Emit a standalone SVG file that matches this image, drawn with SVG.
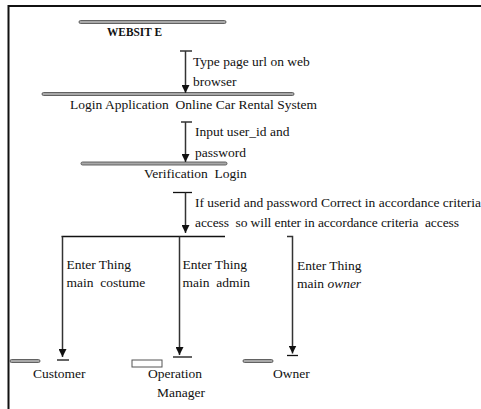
<svg xmlns="http://www.w3.org/2000/svg" width="481" height="409" viewBox="0 0 481 409">
<style>
text{font-family:"Liberation Serif","Times New Roman",serif;font-size:13.5px;fill:#111;white-space:pre}
.bar{fill:#a8a8a8;stroke:#555;stroke-width:0.9}
.ln{stroke:#333;stroke-width:1.5;fill:none}
.tk{stroke:#111;stroke-width:1.3;fill:none}
</style>
<defs>
<marker id="ah" markerUnits="userSpaceOnUse" markerWidth="9" markerHeight="8" refX="8" refY="4" orient="auto">
<path d="M0,0 L8,4 L0,8 Z" fill="#111"/>
</marker>
</defs>
<rect width="481" height="409" fill="#fff"/>
<g id="frame">
<path d="M8.5,409 V6 H481" stroke="#111" stroke-width="2" fill="none"/>
</g>
<g id="website">
<rect class="bar" x="79" y="20.5" width="147" height="3" rx="1.5"/>
<text x="107" y="36" font-weight="bold" font-size="12.5" textLength="55" lengthAdjust="spacingAndGlyphs">WEBSIT E</text>
</g>
<g id="login">
<rect class="bar" x="42" y="92.5" width="252" height="3" rx="1.5"/>
<text x="70" y="108.5" textLength="247" lengthAdjust="spacing">Login Application  Online Car Rental System</text>
</g>
<g id="verification">
<rect class="bar" x="81" y="162" width="146" height="3" rx="1.5"/>
<text x="144" y="178">Verification  Login</text>
</g>
<g id="customer">
<rect class="bar" x="10" y="359.5" width="30" height="3" rx="1.5"/>
<text x="33" y="378">Customer</text>
</g>
<g id="operation-manager">
<rect x="132" y="360" width="30" height="7" fill="#fff" stroke="#555" stroke-width="1"/>
<text x="148" y="378">Operation</text>
<text x="157" y="396.5">Manager</text>
</g>
<g id="owner">
<rect class="bar" x="243" y="359.5" width="30" height="3" rx="1.5"/>
<text x="273" y="378">Owner</text>
</g>
<g id="connectors">
<line class="tk" x1="180" y1="51" x2="192" y2="51"/>
<line class="ln" x1="185.5" y1="51" x2="185.5" y2="93" marker-end="url(#ah)"/>
<text x="193" y="66">Type page url on web</text>
<text x="193" y="86">browser</text>
<line class="tk" x1="181" y1="122" x2="192" y2="122"/>
<line class="ln" x1="185.5" y1="122" x2="185.5" y2="162" marker-end="url(#ah)"/>
<text x="195" y="136">Input user_id and</text>
<text x="195" y="157">password</text>
<line class="tk" x1="173" y1="192.5" x2="192" y2="192.5"/>
<line class="ln" x1="185.5" y1="192.5" x2="185.5" y2="233" marker-end="url(#ah)"/>
<text x="195" y="207">If userid and password Correct in accordance criteria</text>
<text x="195" y="227" textLength="264" lengthAdjust="spacing">access  so will enter in accordance criteria  access</text>
<line class="tk" x1="61.5" y1="236.5" x2="225" y2="236.5"/>
<path class="ln" d="M62.5,236.5 V357" marker-end="url(#ah)"/>
<line class="tk" x1="57" y1="360" x2="69" y2="360"/>
<path class="ln" d="M179.5,236.5 V355" marker-end="url(#ah)"/>
<line class="tk" x1="173" y1="357" x2="192" y2="357"/>
<path class="ln" d="M287,236.5 H292.5 V353.5" marker-end="url(#ah)"/>
<line class="tk" x1="287" y1="355.5" x2="298" y2="355.5"/>
<text x="66.5" y="268.5">Enter Thing</text>
<text x="66.5" y="287">main  costume</text>
<text x="182.5" y="268.5">Enter Thing</text>
<text x="182.5" y="287">main  admin</text>
<text x="297" y="270">Enter Thing</text>
<text x="297" y="288">main <tspan font-style="italic">owner</tspan></text>
</g>
</svg>
